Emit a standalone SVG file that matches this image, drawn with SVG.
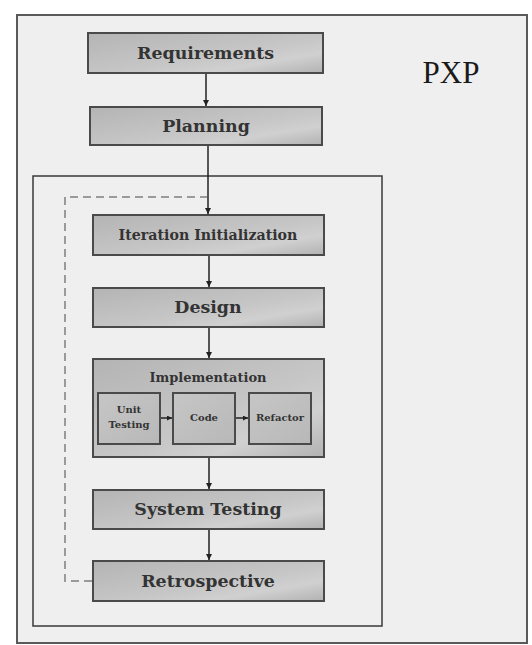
<svg xmlns="http://www.w3.org/2000/svg" width="532" height="645" viewBox="0 0 532 645">
<defs>
<linearGradient id="g" x1="0" y1="0" x2="1" y2="1">
<stop offset="0" stop-color="#b4b4b4"/>
<stop offset="0.55" stop-color="#c6c6c6"/>
<stop offset="0.75" stop-color="#d0d0d0"/>
<stop offset="1" stop-color="#b2b2b2"/>
</linearGradient>
<linearGradient id="gi" x1="0" y1="0" x2="1" y2="1">
<stop offset="0" stop-color="#c6c6c6"/>
<stop offset="1" stop-color="#b8b8b8"/>
</linearGradient>
<marker id="ah" viewBox="0 0 10 10" refX="10" refY="5" markerWidth="6" markerHeight="6" orient="auto" markerUnits="userSpaceOnUse">
<path d="M0,0 L10,5 L0,10 z" fill="#222"/>
</marker>
<marker id="ahs" viewBox="0 0 10 10" refX="10" refY="5" markerWidth="5" markerHeight="5" orient="auto" markerUnits="userSpaceOnUse">
<path d="M0,0 L10,5 L0,10 z" fill="#222"/>
</marker>
</defs>
<style>
.box{fill:url(#g);stroke:#4a4a4a;stroke-width:2}
.ibox{fill:url(#gi);stroke:#4a4a4a;stroke-width:2}
.t{font-family:"DejaVu Serif","Liberation Serif",serif;fill:#333333;text-anchor:middle;font-weight:bold}
.c{stroke:#222;stroke-width:1.5;fill:none}
.d{stroke:#9a9a9a;stroke-width:2;fill:none;stroke-dasharray:8,5}
</style>
<rect x="0" y="0" width="532" height="645" fill="#ffffff"/>
<rect id="frame" x="17" y="15" width="510" height="628" fill="#efefef" stroke="#5a5a5a" stroke-width="2"/>
<rect id="iteration-frame" x="33" y="176" width="349" height="450" fill="#efefef" stroke="#3a3a3a" stroke-width="1.5"/>
<text x="451" y="83" font-family="Liberation Serif, serif" font-size="31" fill="#1a1a1a" text-anchor="middle">PXP</text>

<g id="requirements">
<rect class="box" x="88" y="33" width="235" height="40"/>
<text class="t" x="205.5" y="59" font-size="17.4">Requirements</text>
</g>
<g id="planning">
<rect class="box" x="90" y="107" width="232" height="38"/>
<text class="t" x="206" y="132" font-size="17.4">Planning</text>
</g>
<g id="iteration-initialization">
<rect class="box" x="93" y="215" width="231" height="40"/>
<text class="t" x="208" y="240" font-size="14.2">Iteration Initialization</text>
</g>
<g id="design">
<rect class="box" x="93" y="288" width="231" height="39"/>
<text class="t" x="208" y="313" font-size="17.4">Design</text>
</g>
<g id="implementation">
<rect class="box" x="93" y="359" width="231" height="98"/>
<text class="t" x="208" y="382" font-size="13">Implementation</text>
<g id="unit-testing">
<rect class="ibox" x="98" y="393" width="62" height="51"/>
<text class="t" x="129" y="413" font-size="10">Unit</text>
<text class="t" x="129" y="428" font-size="10">Testing</text>
</g>
<g id="code">
<rect class="ibox" x="173" y="393" width="62" height="51"/>
<text class="t" x="204" y="421" font-size="10">Code</text>
</g>
<g id="refactor">
<rect class="ibox" x="249" y="393" width="62" height="51"/>
<text class="t" x="280" y="421" font-size="10">Refactor</text>
</g>
</g>
<g id="system-testing">
<rect class="box" x="93" y="490" width="231" height="39"/>
<text class="t" x="208" y="515" font-size="17.4">System Testing</text>
</g>
<g id="retrospective">
<rect class="box" x="93" y="561" width="231" height="40"/>
<text class="t" x="208" y="587" font-size="17.4">Retrospective</text>
</g>

<g id="connectors">
<line class="c" x1="206" y1="74" x2="206" y2="106" marker-end="url(#ah)"/>
<line class="c" x1="208" y1="146" x2="208" y2="214" marker-end="url(#ah)"/>
<line class="c" x1="209" y1="256" x2="209" y2="287" marker-end="url(#ah)"/>
<line class="c" x1="209" y1="328" x2="209" y2="358" marker-end="url(#ah)"/>
<line class="c" x1="161" y1="418" x2="172" y2="418" marker-end="url(#ahs)"/>
<line class="c" x1="236" y1="418" x2="248" y2="418" marker-end="url(#ahs)"/>
<line class="c" x1="209" y1="458" x2="209" y2="489" marker-end="url(#ah)"/>
<line class="c" x1="209" y1="530" x2="209" y2="560" marker-end="url(#ah)"/>
<path class="d" d="M92,581 L65,581 L65,197 L207,197"/>
</g>
</svg>
